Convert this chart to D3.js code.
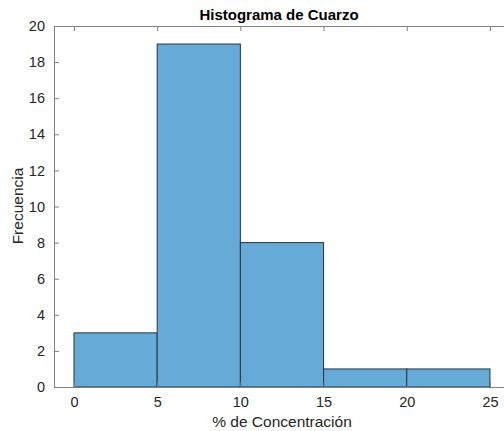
<!DOCTYPE html>
<html><head><meta charset="utf-8">
<script src="https://cdn.jsdelivr.net/npm/d3@7"></script>
<style>body{margin:0;background:#fff}svg{display:block;font-family:"Liberation Sans",Arial,sans-serif}</style>
</head><body>
<svg id="c" width="504" height="431"></svg>
<script>
const binEdges = [0, 5, 10, 15, 20, 25];
const counts = [3, 19, 8, 1, 1];
const xTicks = [0, 5, 10, 15, 20, 25];
const yTicks = [0, 2, 4, 6, 8, 10, 12, 14, 16, 18, 20];
const title = "Histograma de Cuarzo";
const xLabel = "% de Concentración";
const yLabel = "Frecuencia";

const svg = d3.select("#c");
const L = 54, T = 26, B = 387;
const x = d3.scaleLinear().domain([-1.2, 26.2]).range([L, L + 27.4 * 16.64]);
const y = d3.scaleLinear().domain([0, 20]).range([B, T]);
const axCol = "#262626";
const lineCol = "#808080";

const bins = counts.map((c, i) => ({x0: binEdges[i], x1: binEdges[i + 1], c}));
svg.append("g").selectAll("rect").data(bins).join("rect")
  .attr("x", d => x(d.x0)).attr("y", d => y(d.c))
  .attr("width", d => x(d.x1) - x(d.x0)).attr("height", d => y(0) - y(d.c))
  .attr("fill", "rgb(102,170,215)").attr("stroke", "#263440").attr("stroke-width", 1);

const gx = svg.append("g").attr("transform", `translate(0,${B})`)
  .call(d3.axisBottom(x).tickValues(xTicks).tickSize(-5).tickPadding(10));
const gxt = svg.append("g").attr("transform", `translate(0,${T})`)
  .call(d3.axisTop(x).tickValues(xTicks).tickSize(-5).tickFormat(""));
const gy = svg.append("g").attr("transform", `translate(${L},0)`)
  .call(d3.axisLeft(y).tickValues(yTicks).tickSize(-5).tickPadding(9));
[gx, gxt, gy].forEach(g => {
  g.attr("font-size", null).attr("font-family", null);
  g.select(".domain").attr("stroke", lineCol);
  g.selectAll(".tick line").attr("stroke", lineCol);
  g.selectAll(".tick text").attr("fill", axCol).style("font-size", "14.5px")
   .style("font-family", "'Liberation Sans', Arial, sans-serif");
});
gx.select(".domain").attr("d", `M${L},0.5H504`);
gxt.select(".domain").attr("d", `M${L},0.5H504`);
gy.select(".domain").attr("d", `M0.5,${B}V${T}`);

svg.append("text").attr("x", 279).attr("y", 20).attr("text-anchor", "middle")
  .style("font-size", "15px").attr("font-weight", "bold").attr("fill", "#000").text(title);
svg.append("text").attr("x", 282).attr("y", 427).attr("text-anchor", "middle")
  .style("font-size", "15.5px").attr("fill", axCol).text(xLabel);
svg.append("text").attr("transform", `translate(23,206) rotate(-90)`).attr("text-anchor", "middle")
  .style("font-size", "15.5px").attr("fill", axCol).text(yLabel);
</script>
</body></html>
